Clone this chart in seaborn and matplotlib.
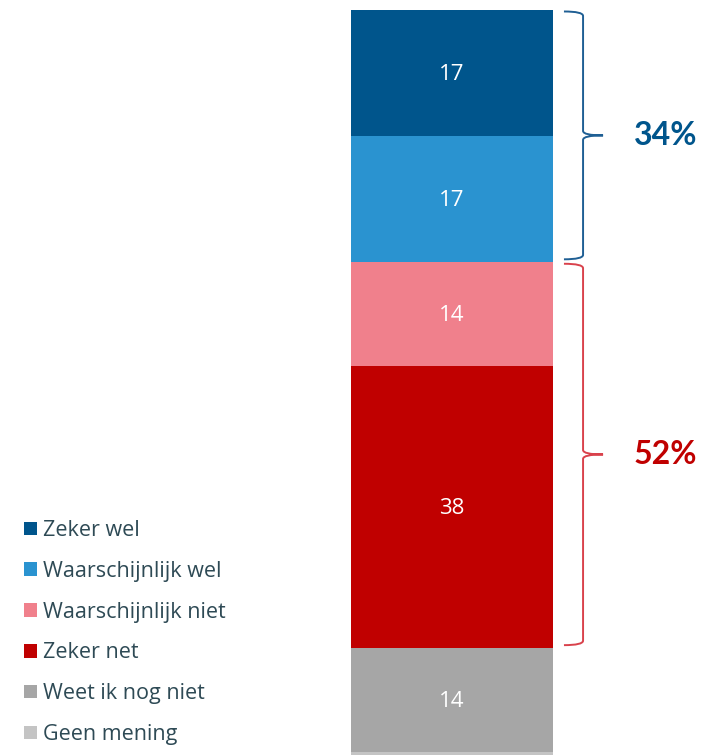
import pandas as pd
import seaborn as sns
import matplotlib.pyplot as plt
from matplotlib.path import Path
from matplotlib.patches import PathPatch, Patch

# answers, top of the bar first
labels = ['Zeker wel', 'Waarschijnlijk wel', 'Waarschijnlijk niet',
          'Zeker net', 'Weet ik nog niet', 'Geen mening']
values = [17, 17, 14, 38, 14, 1]
colors = ['#00558C', '#2A93D0', '#F0808C', '#C00000', '#A6A6A6', '#C4C4C4']

# brace groups: (first segment, last segment, label, text colour, brace colour)
groups = [(0, 1, '34%', '#00558C', '#1F5F94'),
          (2, 3, '52%', '#C00000', '#D9424C')]

df = pd.DataFrame({'label': labels, 'value': values, 'color': colors})
df['cum'] = df['value'].cumsum()
df['start'] = df['cum'] - df['value']

sns.set_style('white')

fig = plt.figure(figsize=(7.05, 7.55), dpi=100)
ax = fig.add_axes([351 / 705, 0, 354 / 705, 745 / 755])

# stacked bar: draw the cumulative totals from largest to smallest
for _, row in df[::-1].iterrows():
    sns.barplot(x=['x'], y=[row['cum']], color=row['color'], width=1,
                saturation=1, linewidth=0, ax=ax)

ax.set_xlim(-0.5, 1.252)
ax.set_ylim(745 / 7.42, 0)
ax.axis('off')

# values inside the segments
for _, row in df.iterrows():
    if row['value'] >= 5:
        ax.text(0, row['start'] + row['value'] / 2 + 0.15, str(row['value']),
                ha='center', va='center', color='white', fontsize=16,
                family='Open Sans', fontweight='normal')


def brace(y0, y1, color):
    x0, xv, xt = 0.554, 0.6485, 0.7475
    r = 0.6
    ym = (y0 + y1) / 2
    verts = [(x0, y0), (xv, y0), (xv, y0 + r), (xv, ym - r), (xv, ym), (xt, ym),
             (xv, ym), (xv, ym + r), (xv, y1 - r), (xv, y1), (x0, y1)]
    codes = [Path.MOVETO, Path.CURVE3, Path.CURVE3, Path.LINETO, Path.CURVE3, Path.CURVE3,
             Path.CURVE3, Path.CURVE3, Path.LINETO, Path.CURVE3, Path.CURVE3]
    ax.add_patch(PathPatch(Path(verts, codes), facecolor='none', edgecolor=color,
                           lw=1.4, clip_on=False))


for first, last, text, tcol, bcol in groups:
    y0 = df.loc[first, 'start'] + 0.2
    y1 = df.loc[last, 'cum'] - 0.4
    brace(y0, y1, bcol)
    ax.text(1.057, (y0 + y1) / 2, text, ha='center', va='center', color=tcol,
            fontsize=23, fontweight='bold', family='Lato')

handles = [Patch(facecolor=c, edgecolor='none') for c in colors]
fig.legend(handles, labels, loc='upper left', bbox_to_anchor=(24 / 705, 1 - 520 / 755),
           frameon=False, handlelength=0.6, handleheight=0.6,
           handletextpad=0.28, labelspacing=0.92, borderpad=0, borderaxespad=0,
           labelcolor='#2E4A55', prop={'family': 'Open Sans', 'size': 15.5})

fig.savefig('out.png', dpi=100)
